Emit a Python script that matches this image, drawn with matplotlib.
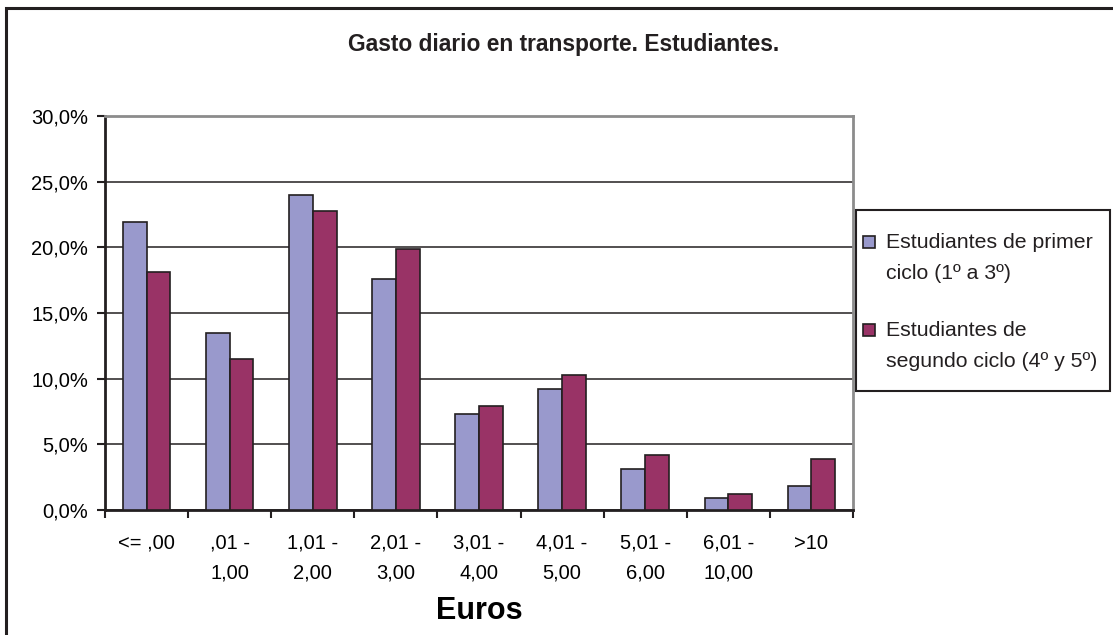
import numpy as np
import matplotlib.pyplot as plt
from matplotlib.patches import Rectangle
from matplotlib.ticker import FuncFormatter

plt.rcParams['font.family'] = ['Liberation Sans', 'DejaVu Sans']

categories = ['<= ,00', ',01 -\n1,00', '1,01 -\n2,00', '2,01 -\n3,00', '3,01 -\n4,00',
              '4,01 -\n5,00', '5,01 -\n6,00', '6,01 -\n10,00', '>10']
primer = [21.9, 13.5, 24.0, 17.6, 7.3, 9.2, 3.1, 0.9, 1.8]
segundo = [18.1, 11.5, 22.8, 19.9, 7.9, 10.3, 4.2, 1.2, 3.9]
labels = ['Estudiantes de primer\nciclo (1º a 3º)', 'Estudiantes de\nsegundo ciclo (4º y 5º)']
colors = ['#9999cc', '#993366']

W, H = 1113, 635
fig = plt.figure(figsize=(W / 100, H / 100), dpi=100)
ax = fig.add_axes([105 / W, 1 - 510 / H, 748 / W, 394 / H])

# outer chart border (only top and left fall inside the image)
fig.patches.append(Rectangle((6 / W, -0.1), 1.2, 1 - 8 / H + 0.1, transform=fig.transFigure,
                             fill=False, edgecolor='#231f20', linewidth=2.2))

x = np.arange(len(categories))
w = 1 / 3.5
b1 = ax.bar(x - w / 2, primer, w, color=colors[0], edgecolor='#231f20', linewidth=1.2, zorder=3)
b2 = ax.bar(x + w / 2, segundo, w, color=colors[1], edgecolor='#231f20', linewidth=1.2, zorder=3)

ax.set_xlim(-0.5, len(categories) - 0.5)
ax.set_ylim(0, 30)
ax.set_yticks(np.arange(0, 31, 5))
ax.yaxis.set_major_formatter(FuncFormatter(lambda v, p: f'{v:.1f}%'.replace('.', ',')))
ax.yaxis.grid(True, color='#231f20', linewidth=1.1, zorder=0)
ax.set_axisbelow(True)

ax.set_xticks(x)
ax.set_xticklabels(categories, fontsize=14.5, linespacing=1.72)
ax.set_xticks(np.arange(-0.5, len(categories), 1), minor=True)
ax.tick_params(axis='x', which='major', length=0, pad=17)
ax.tick_params(axis='x', which='minor', length=6, width=1.5, color='#231f20', direction='out')
ax.tick_params(axis='y', length=6, width=1.5, color='#231f20', labelsize=14.5, pad=6)

for s in ['left', 'bottom']:
    ax.spines[s].set_color('#231f20')
    ax.spines[s].set_linewidth(2)
for s in ['top', 'right']:
    ax.spines[s].set_color('#8c8c8c')
    ax.spines[s].set_linewidth(2)

ax.set_xlabel('Euros', fontsize=22, fontweight='bold', labelpad=10)
fig.text(0.506, 1 - 45 / H, 'Gasto diario en transporte. Estudiantes.', ha='center', va='center',
         fontsize=16.4, fontweight='bold', color='#231f20')

# legend box, drawn by hand so the marker sits on the first text line
fig.patches.append(Rectangle((856 / W, 1 - 391 / H), 254 / W, 181 / H, transform=fig.transFigure,
                             facecolor='white', edgecolor='#231f20', linewidth=1.5, zorder=5))
for i, (lab, c) in enumerate(zip(labels, colors)):
    y0 = 242 + i * 88
    fig.patches.append(Rectangle((863 / W, 1 - (y0 + 6) / H), 12 / W, 12 / H, transform=fig.transFigure,
                                 facecolor=c, edgecolor='#231f20', linewidth=1.2, zorder=6))
    fig.text(886 / W, 1 - (y0 - 9) / H, lab, ha='left', va='top', fontsize=15.3,
             linespacing=1.8, color='#231f20', zorder=7)

plt.savefig('out.png', dpi=100)
